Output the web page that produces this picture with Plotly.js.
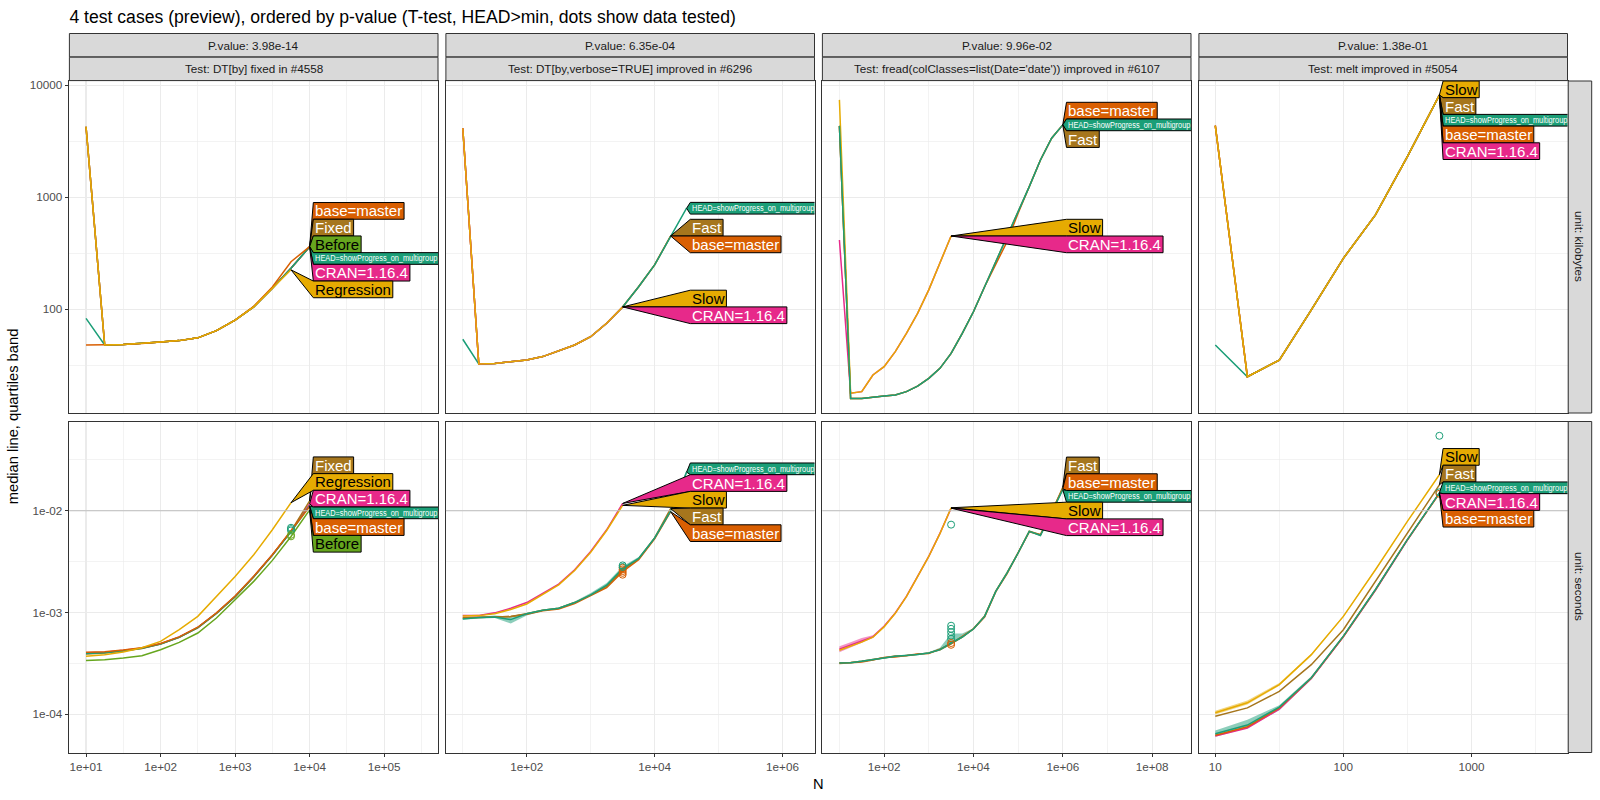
<!DOCTYPE html>
<html><head><meta charset="utf-8">
<script src="https://cdn.plot.ly/plotly-3.0.1.min.js"></script>
<style>html,body{margin:0;padding:0;background:#fff}#chart{width:1600px;height:800px}</style>
</head><body><div id="chart"></div>
<script>
// ===================== DATA =====================
const chartTitle = '4 test cases (preview), ordered by p-value (T-test, HEAD>min, dots show data tested)';
const pValueLabels = ['P.value: 3.98e-14', 'P.value: 6.35e-04', 'P.value: 9.96e-02', 'P.value: 1.38e-01'];
const testLabels = ['Test: DT[by] fixed in #4558', 'Test: DT[by,verbose=TRUE] improved in #6296',
  "Test: fread(colClasses=list(Date='date')) improved in #6107", 'Test: melt improved in #5054'];
const unitLabels = ['unit: kilobytes', 'unit: seconds'];
const xTitleText = 'N';
const yTitleText = 'median line, quartiles band';

const versionLabels = {HEAD: 'HEAD=showProgress_on_multigroup', base: 'base=master', CRAN: 'CRAN=1.16.4',
  Before: 'Before', Fixed: 'Fixed', Regression: 'Regression', Fast: 'Fast', Slow: 'Slow'};

// tick labels
const xTickVals = [[10, 100, 1000, 10000, 100000], [100, 10000, 1000000], [100, 10000, 1000000, 100000000], [10, 100, 1000]];
const xTickText = [['1e+01', '1e+02', '1e+03', '1e+04', '1e+05'], ['1e+02', '1e+04', '1e+06'],
  ['1e+02', '1e+04', '1e+06', '1e+08'], ['10', '100', '1000']];
const xMinorVals = [[31.62, 316.2, 3162, 31623, 316228], [10, 1000, 100000], [10, 1000, 100000, 10000000], [31.62, 316.2, 3162]];
const yTickVals = [[100, 1000, 10000], [0.0001, 0.001, 0.01]];
const yTickText = [['100', '1000', '10000'], ['1e-04', '1e-03', '1e-02']];
const yMinorVals = [[31.62, 316.2, 3162], [0.0000316, 0.000316, 0.00316, 0.0316]];
const timeLimit = 0.01;

// ---- test 1: DT[by] fixed in #4558 ----
const N_by = [10, 17.8, 31.6, 56.2, 100, 178, 316, 562, 1000, 1778, 3162, 5623, 10000];
const kb_by_HEAD = [83, 48, 48.5, 49.5, 51, 52.5, 55.6, 64.4, 80, 105, 154, 232, 362];
const kb_by_base = [48, 48, 48.5, 49.5, 51, 52.5, 55.6, 64.4, 80, 106, 158, 266, 362];
const kb_by_CRAN = [4266, 48, 48.5, 49.5, 51, 52.5, 55.6, 64.4, 80, 105, 154, 232, 362];
const kb_by_Before = [4266, 48, 48.5, 49.5, 51, 52.5, 55.6, 64.4, 80, 105, 154, 232, 362];
const kb_by_Fixed = [4266, 48, 48.5, 49.5, 51, 52.5, 55.6, 64.4, 80, 105, 154, 232, 362];
const kb_by_Regression = [4266, 48, 48.5, 49.5, 51, 52.5, 55.6, 64.4, 80, 105, 154, 225];
const sec_by_HEAD = [3.95e-4, 4.02e-4, 4.2e-4, 4.45e-4, 4.9e-4, 5.7e-4, 7.1e-4, 9.8e-4, 1.43e-3, 2.24e-3, 3.65e-3, 6.2e-3, 0.0112];
const sec_by_base = [4.05e-4, 4.1e-4, 4.26e-4, 4.5e-4, 4.95e-4, 5.75e-4, 7.15e-4, 9.9e-4, 1.45e-3, 2.27e-3, 3.7e-3, 6.3e-3, 0.0110];
const sec_by_CRAN = [4.0e-4, 4.06e-4, 4.24e-4, 4.47e-4, 4.92e-4, 5.73e-4, 7.13e-4, 9.86e-4, 1.44e-3, 2.26e-3, 3.69e-3, 6.27e-3, 0.0117];
const sec_by_Fixed = [3.9e-4, 3.98e-4, 4.18e-4, 4.42e-4, 4.88e-4, 5.68e-4, 7.05e-4, 9.75e-4, 1.42e-3, 2.23e-3, 3.66e-3, 6.3e-3, 0.0125];
const sec_by_Before = [3.37e-4, 3.43e-4, 3.56e-4, 3.75e-4, 4.3e-4, 5.07e-4, 6.27e-4, 8.8e-4, 1.33e-3, 2.02e-3, 3.25e-3, 5.58e-3, 0.0102];
const sec_by_Regression = [3.7e-4, 3.84e-4, 4.07e-4, 4.5e-4, 5.19e-4, 6.76e-4, 9.14e-4, 1.44e-3, 2.26e-3, 3.69e-3, 6.5e-3, 0.0120];
const dotN_by = 5623;
const dots_by_HEAD = [6.4e-3, 6.6e-3, 6.8e-3];
const dots_by_Before = [5.6e-3, 5.8e-3];

// ---- test 2: DT[by,verbose=TRUE] improved in #6296 ----
const N_verbose = [10, 17.8, 31.6, 56.2, 100, 178, 316, 562, 1000, 1778, 3162, 5623, 10000, 17783, 31623];
const kb_verbose_HEAD = [54, 32.5, 32.8, 34, 35.2, 37.8, 42.7, 48, 56.9, 75, 105, 159, 249, 451, 798];
const kb_verbose_base = [4130, 32.5, 32.8, 34, 35.2, 37.8, 42.7, 48, 56.9, 75, 105, 159, 249, 451];
const kb_verbose_Fast = [4130, 32.5, 32.8, 34, 35.2, 37.8, 42.7, 48, 56.9, 75, 105, 159, 249, 451];
const kb_verbose_CRAN = [4130, 32.5, 32.8, 34, 35.2, 37.8, 42.7, 48, 56.9, 75, 105];
const kb_verbose_Slow = [4130, 32.5, 32.8, 34, 35.2, 37.8, 42.7, 48, 56.9, 75, 105];
const sec_verbose_CRAN = [9.3e-4, 9.35e-4, 9.9e-4, 1.10e-3, 1.25e-3, 1.55e-3, 1.90e-3, 2.63e-3, 3.98e-3, 6.5e-3, 0.0118];
const sec_verbose_Slow = [9.2e-4, 9.3e-4, 9.7e-4, 1.07e-3, 1.21e-3, 1.51e-3, 1.87e-3, 2.58e-3, 3.9e-3, 6.4e-3, 0.0113];
const sec_verbose_HEAD = [8.6e-4, 8.9e-4, 9.0e-4, 8.5e-4, 9.7e-4, 1.05e-3, 1.10e-3, 1.25e-3, 1.49e-3, 1.85e-3, 2.7e-3, 3.4e-3, 5.4e-3, 0.0099, 0.024];
const sec_verbose_HEAD_q25 = [8.5e-4, 8.7e-4, 8.8e-4, 7.8e-4, 9.3e-4, 1.03e-3, 1.08e-3, 1.23e-3, 1.46e-3, 1.8e-3, 2.6e-3, 3.3e-3, 5.3e-3, 0.0097, 0.023];
const sec_verbose_HEAD_q75 = [8.8e-4, 9.1e-4, 9.3e-4, 9.1e-4, 9.9e-4, 1.07e-3, 1.12e-3, 1.28e-3, 1.55e-3, 1.95e-3, 2.85e-3, 3.5e-3, 5.5e-3, 0.0101, 0.025];
const sec_verbose_Fast = [8.8e-4, 8.9e-4, 9.1e-4, 9.1e-4, 9.7e-4, 1.05e-3, 1.10e-3, 1.25e-3, 1.48e-3, 1.80e-3, 2.62e-3, 3.35e-3, 5.4e-3, 0.0105];
const sec_verbose_base = [8.9e-4, 8.9e-4, 9.0e-4, 9.1e-4, 9.6e-4, 1.04e-3, 1.08e-3, 1.22e-3, 1.45e-3, 1.75e-3, 2.52e-3, 3.3e-3, 5.3e-3, 0.0098];
const dotN_verbose = 3162;
const dots_verbose_base = [2.35e-3, 2.45e-3, 2.55e-3, 2.65e-3, 2.75e-3];
const dots_verbose_HEAD = [2.8e-3, 2.9e-3];

// ---- test 3: fread(colClasses=list(Date='date')) improved in #6107 ----
const N_fread = [10, 17.8, 31.6, 56.2, 100, 178, 316, 562, 1000, 1778, 3162, 5623, 10000, 17783, 31623, 56234,
  100000, 177828, 316228, 562341, 1000000];
const kb_fread_Slow = [7400, 17.8, 18.4, 25.9, 30.7, 41.9, 61, 92, 149, 258, 451];
const kb_fread_CRAN = [416, 17.8, 18.4, 25.9, 30.7, 41.9, 61, 92, 149, 258, 451];
const kb_fread_HEAD = [4340, 16.0, 16.0, 16.5, 16.8, 17.2, 18.4, 20.6, 24.2, 29.7, 40.4, 61, 95, 159, 266, 430, 720, 1245, 2150, 3365, 4430];
const kb_fread_base = [4340, 16.0, 16.0, 16.5, 16.8, 17.2, 18.4, 20.6, 24.2, 29.7, 40.4, 61, 95, 159, 250, 400, 720, 1245, 2150, 3365, 4430];
const kb_fread_Fast = [4340, 16.0, 16.0, 16.5, 16.8, 17.2, 18.4, 20.6, 24.2, 29.7, 40.4, 61, 95, 159, 266, 430, 720, 1245, 2150, 3365, 4430];
const sec_fread_CRAN = [4.35e-4, 4.75e-4, 5.2e-4, 5.75e-4, 7.3e-4, 9.86e-4, 1.44e-3, 2.26e-3, 3.56e-3, 6.0e-3, 0.0106];
const sec_fread_CRAN_q25 = [4.05e-4, 4.5e-4, 5.0e-4, 5.6e-4, 7.2e-4, 9.7e-4, 1.42e-3, 2.23e-3, 3.52e-3, 5.9e-3, 0.0104];
const sec_fread_CRAN_q75 = [4.65e-4, 5.1e-4, 5.6e-4, 5.95e-4, 7.45e-4, 1.0e-3, 1.46e-3, 2.29e-3, 3.6e-3, 6.1e-3, 0.0108];
const sec_fread_Slow = [4.25e-4, 4.65e-4, 5.1e-4, 5.7e-4, 7.2e-4, 9.8e-4, 1.43e-3, 2.25e-3, 3.55e-3, 5.95e-3, 0.0107];
const sec_fread_HEAD = [3.18e-4, 3.2e-4, 3.3e-4, 3.4e-4, 3.56e-4, 3.7e-4, 3.75e-4, 3.85e-4, 3.99e-4, 4.3e-4, 5.0e-4, 5.73e-4,
  6.87e-4, 9.14e-4, 1.61e-3, 2.44e-3, 3.84e-3, 6.27e-3, 5.7e-3, 9.5e-3, 0.0161];
const sec_fread_HEAD_q25 = [3.12e-4, 3.15e-4, 3.25e-4, 3.35e-4, 3.5e-4, 3.65e-4, 3.7e-4, 3.8e-4, 3.95e-4, 4.2e-4, 4.8e-4, 5.6e-4,
  6.8e-4, 9.0e-4, 1.59e-3, 2.41e-3, 3.8e-3, 6.2e-3, 5.6e-3, 9.4e-3, 0.0159];
const sec_fread_HEAD_q75 = [3.24e-4, 3.26e-4, 3.36e-4, 3.48e-4, 3.62e-4, 3.76e-4, 3.82e-4, 3.92e-4, 4.05e-4, 4.5e-4, 6.2e-4, 6.2e-4,
  7.0e-4, 9.3e-4, 1.63e-3, 2.47e-3, 3.9e-3, 6.35e-3, 5.8e-3, 9.6e-3, 0.0163];
const sec_fread_base = [3.15e-4, 3.2e-4, 3.25e-4, 3.4e-4, 3.6e-4, 3.65e-4, 3.8e-4, 3.9e-4, 3.95e-4, 4.35e-4, 4.9e-4, 5.8e-4,
  6.9e-4, 9.0e-4, 1.6e-3, 2.4e-3, 3.8e-3, 6.2e-3, 5.8e-3, 9.6e-3, 0.0165];
const sec_fread_Fast = [3.2e-4, 3.22e-4, 3.3e-4, 3.45e-4, 3.55e-4, 3.72e-4, 3.75e-4, 3.9e-4, 4.0e-4, 4.3e-4, 5.0e-4, 5.7e-4,
  6.9e-4, 9.2e-4, 1.62e-3, 2.45e-3, 3.85e-3, 6.3e-3, 5.8e-3, 9.6e-3, 0.0170];
const dotN_fread = 3162;
const dots_fread_HEAD = [7.3e-3, 7.4e-4, 6.9e-4, 6.4e-4, 5.9e-4, 5.5e-4];
const dots_fread_base = [4.8e-4, 5.0e-4];

// ---- test 4: melt improved in #5054 ----
const N_melt = [10, 17.8, 31.6, 56.2, 100, 178, 316, 562];
const kb_melt_Slow = [4365, 25, 35.2, 98.6, 285, 695, 2306, 8180];
const kb_melt_Fast = [4365, 25, 35.2, 98.6, 285, 695, 2306, 8180];
const kb_melt_base = [4365, 25, 35.2, 98.6, 285, 695, 2306, 8180];
const kb_melt_CRAN = [4365, 25, 35.2, 98.6, 285, 695, 2306, 8180];
const kb_melt_HEAD = [48, 25, 35.2, 98.6, 285, 695, 2306, 8180];
const sec_melt_Slow = [1.03e-4, 1.29e-4, 1.95e-4, 3.84e-4, 9.14e-4, 2.63e-3, 7.85e-3, 0.0226];
const sec_melt_Slow_q25 = [9.9e-5, 1.24e-4, 1.9e-4, 3.75e-4, 9.0e-4, 2.6e-3, 7.8e-3, 0.0224];
const sec_melt_Slow_q75 = [1.08e-4, 1.36e-4, 2.02e-4, 3.92e-4, 9.3e-4, 2.67e-3, 7.95e-3, 0.0229];
const sec_melt_Fast = [9.5e-5, 1.15e-4, 1.67e-4, 3.06e-4, 6.76e-4, 2.02e-3, 6.0e-3, 0.018];
const sec_melt_HEAD = [6.4e-5, 7.8e-5, 1.17e-4, 2.28e-4, 5.85e-4, 1.68e-3, 5.2e-3, 0.0150];
const sec_melt_HEAD_q25 = [6.0e-5, 7.3e-5, 1.09e-4, 2.2e-4, 5.7e-4, 1.65e-3, 5.1e-3, 0.0148];
const sec_melt_HEAD_q75 = [6.9e-5, 8.8e-5, 1.22e-4, 2.35e-4, 6.0e-4, 1.72e-3, 5.3e-3, 0.0153];
const sec_melt_CRAN = [6.1e-5, 7.3e-5, 1.12e-4, 2.24e-4, 5.75e-4, 1.65e-3, 5.15e-3, 0.0149];
const sec_melt_base = [6.2e-5, 7.5e-5, 1.15e-4, 2.26e-4, 5.8e-4, 1.67e-3, 5.19e-3, 0.0148];
const dotN_melt = 562;
const dots_melt_HEAD = [0.0546, 0.0152];
const dots_melt_base = [0.0147];

// label stacking order (top to bottom) and drawing order per panel
const labelOrder = {
  '0,0': ['base', 'Fixed', 'Before', 'HEAD', 'CRAN', 'Regression'],
  '1,0': ['Fixed', 'Regression', 'CRAN', 'HEAD', 'base', 'Before'],
  '0,1': ['HEAD', 'Fast', 'base', 'Slow', 'CRAN'],
  '1,1': ['HEAD', 'CRAN', 'Slow', 'Fast', 'base'],
  '0,2': ['base', 'HEAD', 'Fast', 'Slow', 'CRAN'],
  '1,2': ['Fast', 'base', 'HEAD', 'Slow', 'CRAN'],
  '0,3': ['Slow', 'Fast', 'HEAD', 'base', 'CRAN'],
  '1,3': ['Slow', 'Fast', 'HEAD', 'CRAN', 'base']
};
const drawOrder = [
  ['Before', 'CRAN', 'Fixed', 'HEAD', 'base', 'Regression'],
  ['base', 'Fast', 'HEAD', 'CRAN', 'Slow'],
  ['CRAN', 'base', 'Fast', 'Slow', 'HEAD'],
  ['CRAN', 'base', 'HEAD', 'Fast', 'Slow']
];

// ===================== assembled tables =====================
const columns = [
  {N: N_by, kb: {HEAD: kb_by_HEAD, base: kb_by_base, CRAN: kb_by_CRAN, Before: kb_by_Before, Fixed: kb_by_Fixed, Regression: kb_by_Regression},
   sec: {HEAD: sec_by_HEAD, base: sec_by_base, CRAN: sec_by_CRAN, Before: sec_by_Before, Fixed: sec_by_Fixed, Regression: sec_by_Regression},
   bands: {}, dotN: dotN_by, dots: {HEAD: dots_by_HEAD, Before: dots_by_Before}},
  {N: N_verbose, kb: {HEAD: kb_verbose_HEAD, base: kb_verbose_base, Fast: kb_verbose_Fast, CRAN: kb_verbose_CRAN, Slow: kb_verbose_Slow},
   sec: {HEAD: sec_verbose_HEAD, base: sec_verbose_base, Fast: sec_verbose_Fast, CRAN: sec_verbose_CRAN, Slow: sec_verbose_Slow},
   bands: {HEAD: [sec_verbose_HEAD_q25, sec_verbose_HEAD_q75]},
   dotN: dotN_verbose, dots: {base: dots_verbose_base, HEAD: dots_verbose_HEAD}},
  {N: N_fread, kb: {HEAD: kb_fread_HEAD, base: kb_fread_base, Fast: kb_fread_Fast, CRAN: kb_fread_CRAN, Slow: kb_fread_Slow},
   sec: {HEAD: sec_fread_HEAD, base: sec_fread_base, Fast: sec_fread_Fast, CRAN: sec_fread_CRAN, Slow: sec_fread_Slow},
   bands: {CRAN: [sec_fread_CRAN_q25, sec_fread_CRAN_q75], HEAD: [sec_fread_HEAD_q25, sec_fread_HEAD_q75]},
   dotN: dotN_fread, dots: {HEAD: dots_fread_HEAD, base: dots_fread_base}},
  {N: N_melt, kb: {HEAD: kb_melt_HEAD, base: kb_melt_base, Fast: kb_melt_Fast, CRAN: kb_melt_CRAN, Slow: kb_melt_Slow},
   sec: {HEAD: sec_melt_HEAD, base: sec_melt_base, Fast: sec_melt_Fast, CRAN: sec_melt_CRAN, Slow: sec_melt_Slow},
   bands: {HEAD: [sec_melt_HEAD_q25, sec_melt_HEAD_q75], Slow: [sec_melt_Slow_q25, sec_melt_Slow_q75]},
   dotN: dotN_melt, dots: {HEAD: dots_melt_HEAD, base: dots_melt_base}}
];

// ===================== STYLE / LAYOUT =====================
const versionColors = {HEAD: '#1B9E77', base: '#D95F02', CRAN: '#E7298A', Before: '#66A61E', Fixed: '#A6761D',
  Regression: '#E6AB02', Fast: '#A6761D', Slow: '#E6AB02'};
const versionTextColors = {HEAD: '#FFFFFF', base: '#FFFFFF', CRAN: '#FFFFFF', Before: '#000000', Fixed: '#FFFFFF',
  Regression: '#000000', Fast: '#FFFFFF', Slow: '#000000'};
function withAlpha(hex, a) {
  const n = parseInt(hex.slice(1), 16);
  return `rgba(${(n >> 16) & 255},${(n >> 8) & 255},${n & 255},${a})`;
}

const W = 1600, H = 800;
const FONT = '"Liberation Sans", Arial, sans-serif';
const colLeft = [69.4, 445.9, 822.4, 1198.9], colW = 368.6;
const rowTop = [81, 421.5], rowH = [332, 331];
const xRanges = [[0.777, 5.722], [0.736, 6.5], [0.619, 8.87], [0.872, 3.75]];
const yRanges = [[1.074, 4.038], [-4.378, -1.122]];
const strip1 = [33.5, 56.9], strip2 = [57.2, 80.6];
const rightStrip = [1568.2, 1591.7];

function measure(txt, size, family) {
  const ctx = measure.ctx || (measure.ctx = document.createElement('canvas').getContext('2d'));
  ctx.font = size + 'px ' + family;
  return ctx.measureText(txt).width;
}
const LABEL_FAMILY = '"Liberation Sans"';
const bigSize = 15.0, smallSize = 9.0;
const bigSqueeze = 1.0, smallSqueeze = 0.82;   // the long HEAD label uses a narrow look
const bigH = 16.7, smallH = 11.7, padX = 1.8, boxGap = 3.7;

function xToPx(c, v) { return colLeft[c] + (Math.log10(v) - xRanges[c][0]) / (xRanges[c][1] - xRanges[c][0]) * colW; }
function yToPx(r, v) { return rowTop[r] + rowH[r] - (Math.log10(v) - yRanges[r][0]) / (yRanges[r][1] - yRanges[r][0]) * rowH[r]; }

function pava(vals) {
  const blocks = [];
  for (const v of vals) {
    blocks.push({s: v, n: 1});
    while (blocks.length > 1) {
      const b = blocks[blocks.length - 1], a = blocks[blocks.length - 2];
      if (a.s / a.n > b.s / b.n) { a.s += b.s; a.n += b.n; blocks.pop(); } else break;
    }
  }
  const out = [];
  blocks.forEach(b => { for (let i = 0; i < b.n; i++) out.push(b.s / b.n); });
  return out;
}

const traces = [];
const shapes = [];
const annotations = [];
const squeezeAnn = new Map();
const layout = {
  width: W, height: H, margin: {l: 0, r: 0, t: 0, b: 0},
  paper_bgcolor: '#FFFFFF', plot_bgcolor: '#FFFFFF', showlegend: false,
  font: {family: FONT, color: '#000000'},
  title: {text: chartTitle, x: colLeft[0] / W, xanchor: 'left', xref: 'paper', yref: 'paper', y: 1 - 17 / H, yanchor: 'middle',
    font: {family: FONT, size: 17.6, color: '#000000'}},
  hovermode: false
};

for (let r = 0; r < 2; r++) {
  for (let c = 0; c < 4; c++) {
    const k = r * 4 + c + 1;
    const xs = k === 1 ? '' : String(k);
    const xa = 'x' + xs, ya = 'y' + xs;
    const gridCommon = {showgrid: true, gridcolor: '#EBEBEB', gridwidth: 1.1, zeroline: false,
      showline: true, mirror: true, linecolor: '#333333', linewidth: 1, fixedrange: true,
      tickfont: {family: FONT, size: 11.7, color: '#4D4D4D'}, ticklen: 3.7, tickwidth: 1, tickcolor: '#333333'};
    layout['xaxis' + xs] = Object.assign({}, gridCommon, {
      type: 'log', anchor: ya, domain: [colLeft[c] / W, (colLeft[c] + colW) / W], range: xRanges[c],
      tickmode: 'array', tickvals: xTickVals[c], ticktext: xTickText[c],
      showticklabels: r === 1, ticks: r === 1 ? 'outside' : '',
      minor: {tickmode: 'array', tickvals: xMinorVals[c], showgrid: true, gridcolor: '#EBEBEB', gridwidth: 0.6, ticks: ''}
    });
    layout['yaxis' + xs] = Object.assign({}, gridCommon, {
      type: 'log', anchor: xa, domain: [1 - (rowTop[r] + rowH[r]) / H, 1 - rowTop[r] / H], range: yRanges[r],
      tickmode: 'array', tickvals: yTickVals[r], ticktext: yTickText[r],
      showticklabels: c === 0, ticks: c === 0 ? 'outside' : '',
      minor: {tickmode: 'array', tickvals: yMinorVals[r], showgrid: true, gridcolor: '#EBEBEB', gridwidth: 0.6, ticks: ''}
    });

    const col = columns[c];
    const series = r === 0 ? col.kb : col.sec;

    if (r === 1) {
      shapes.push({type: 'line', layer: 'above', xref: xa + ' domain', yref: ya, x0: 0, x1: 1, y0: timeLimit, y1: timeLimit,
        line: {color: '#BEBEBE', width: 1.1}});
      // quartile bands
      Object.keys(col.bands).forEach(v => {
        const [lo, hi] = col.bands[v];
        const xN = col.N.slice(0, lo.length);
        traces.push({type: 'scatter', mode: 'lines', x: xN.concat(xN.slice().reverse()), y: lo.concat(hi.slice().reverse()),
          fill: 'toself', fillcolor: withAlpha(versionColors[v], 0.5), line: {width: 0}, xaxis: xa, yaxis: ya,
          hoverinfo: 'skip', showlegend: false});
      });
    }

    // median lines
    drawOrder[c].forEach(v => {
      const yv = series[v];
      if (!yv) return;
      traces.push({type: 'scatter', mode: 'lines', x: col.N.slice(0, yv.length), y: yv, xaxis: xa, yaxis: ya,
        line: {color: versionColors[v], width: 1.5}, hoverinfo: 'skip', showlegend: false});
    });
    // dots (seconds only)
    if (r === 1) {
      Object.keys(col.dots).forEach(v => {
        const d = col.dots[v];
        traces.push({type: 'scatter', mode: 'markers', x: d.map(() => col.dotN), y: d, xaxis: xa, yaxis: ya,
          marker: {symbol: 'circle-open', size: 7, color: versionColors[v], line: {width: 1, color: versionColors[v]}},
          hoverinfo: 'skip', showlegend: false});
      });
    }

    // direct labels (polygon method)
    const order = labelOrder[r + ',' + c];
    const items = order.map(v => {
      const yv = series[v];
      const n = yv.length;
      const tipN = col.N[n - 1], tipV = yv[n - 1];
      const small = v === 'HEAD';
      const size = small ? smallSize : bigSize;
      const sq = small ? smallSqueeze : bigSqueeze;
      const txt = versionLabels[v];
      return {v, tipN, tipV, tx: xToPx(c, tipN), ty: yToPx(r, tipV), h: small ? smallH : bigH, size, sq, txt,
        w: measure(txt, size, LABEL_FAMILY) * sq + 2 * padX};
    });
    const maxTip = Math.max(...items.map(it => it.tx));
    const boxLeft = maxTip + boxGap;
    const offs = [0];
    for (let i = 1; i < items.length; i++) offs.push(offs[i - 1] + (items[i - 1].h + items[i].h) / 2);
    const z = pava(items.map((it, i) => it.ty - offs[i]));
    const centers = z.map((zz, i) => zz + offs[i]);
    const pTop = rowTop[r], pBot = rowTop[r] + rowH[r];
    if (centers[0] - items[0].h / 2 < pTop) centers[0] = pTop + items[0].h / 2;
    for (let i = 1; i < items.length; i++) centers[i] = Math.max(centers[i], centers[i - 1] + (items[i - 1].h + items[i].h) / 2);
    const L = items.length - 1;
    if (centers[L] + items[L].h / 2 > pBot) {
      centers[L] = pBot - items[L].h / 2;
      for (let i = L - 1; i >= 0; i--) centers[i] = Math.min(centers[i], centers[i + 1] - (items[i].h + items[i + 1].h) / 2);
    }
    items.forEach((it, i) => {
      const bx = boxLeft - it.tx;
      const top = it.ty - (centers[i] - it.h / 2);
      const bot = it.ty - (centers[i] + it.h / 2);
      shapes.push({type: 'path', layer: 'above', xref: xa, yref: ya, xsizemode: 'pixel', ysizemode: 'pixel',
        xanchor: it.tipN, yanchor: it.tipV,
        path: `M0,0 L${bx},${top} L${bx + it.w},${top} L${bx + it.w},${bot} L${bx},${bot} Z`,
        fillcolor: versionColors[it.v], line: {color: '#000000', width: 1}});
      if (it.sq !== 1) squeezeAnn.set(annotations.length, it.sq);
      annotations.push({xref: xa, yref: ya, x: Math.log10(it.tipN), y: Math.log10(it.tipV), showarrow: false,
        xanchor: 'left', yanchor: 'middle', xshift: bx + padX - 1, yshift: (top + bot) / 2, borderpad: 0,
        text: it.txt, font: {family: LABEL_FAMILY, size: it.size, color: versionTextColors[it.v]}});
    });
  }
}

// strips
for (let c = 0; c < 4; c++) {
  [[strip1, pValueLabels[c]], [strip2, testLabels[c]]].forEach(([s, txt]) => {
    shapes.push({type: 'rect', xref: 'paper', yref: 'paper', layer: 'above',
      x0: colLeft[c] / W, x1: (colLeft[c] + colW) / W, y0: 1 - s[1] / H, y1: 1 - s[0] / H,
      fillcolor: '#D9D9D9', line: {color: '#333333', width: 1}});
    annotations.push({xref: 'paper', yref: 'paper', x: (colLeft[c] + colW / 2) / W, y: 1 - (s[0] + s[1]) / 2 / H,
      xanchor: 'center', yanchor: 'middle', showarrow: false, text: txt,
      font: {family: FONT, size: 11.7, color: '#1A1A1A'}});
  });
}
for (let r = 0; r < 2; r++) {
  shapes.push({type: 'rect', xref: 'paper', yref: 'paper', layer: 'above',
    x0: rightStrip[0] / W, x1: rightStrip[1] / W, y0: 1 - (rowTop[r] + rowH[r]) / H, y1: 1 - rowTop[r] / H,
    fillcolor: '#D9D9D9', line: {color: '#333333', width: 1}});
  annotations.push({xref: 'paper', yref: 'paper', x: (rightStrip[0] + rightStrip[1]) / 2 / W, y: 1 - (rowTop[r] + rowH[r] / 2) / H,
    xanchor: 'center', yanchor: 'middle', showarrow: false, textangle: 90, text: unitLabels[r],
    font: {family: FONT, size: 11.7, color: '#1A1A1A'}});
}
// axis titles
annotations.push({xref: 'paper', yref: 'paper', x: (colLeft[0] + colLeft[3] + colW) / 2 / W, y: 1 - 783.5 / H,
  xanchor: 'center', yanchor: 'middle', showarrow: false, text: xTitleText, font: {family: FONT, size: 14.7, color: '#000000'}});
annotations.push({xref: 'paper', yref: 'paper', x: 12.5 / W, y: 1 - (rowTop[0] + rowTop[1] + rowH[1]) / 2 / H,
  xanchor: 'center', yanchor: 'middle', showarrow: false, textangle: -90, text: yTitleText,
  font: {family: FONT, size: 14.7, color: '#000000'}});

layout.shapes = shapes;
layout.annotations = annotations;
Plotly.newPlot('chart', traces, layout, {staticPlot: true, displayModeBar: false}).then(gd => {
  // squeeze the long HEAD label text horizontally around its left edge (narrow-font look)
  gd.querySelectorAll('g.annotation').forEach(g => {
    const idx = +g.getAttribute('data-index');
    if (!squeezeAnn.has(idx)) return;
    const t = g.querySelector('text.annotation-text');
    if (!t) return;
    t.style.transformBox = 'fill-box';
    t.style.transformOrigin = 'left center';
    t.style.transform = 'scaleX(' + squeezeAnn.get(idx) + ')';
  });
});
</script></body></html>
